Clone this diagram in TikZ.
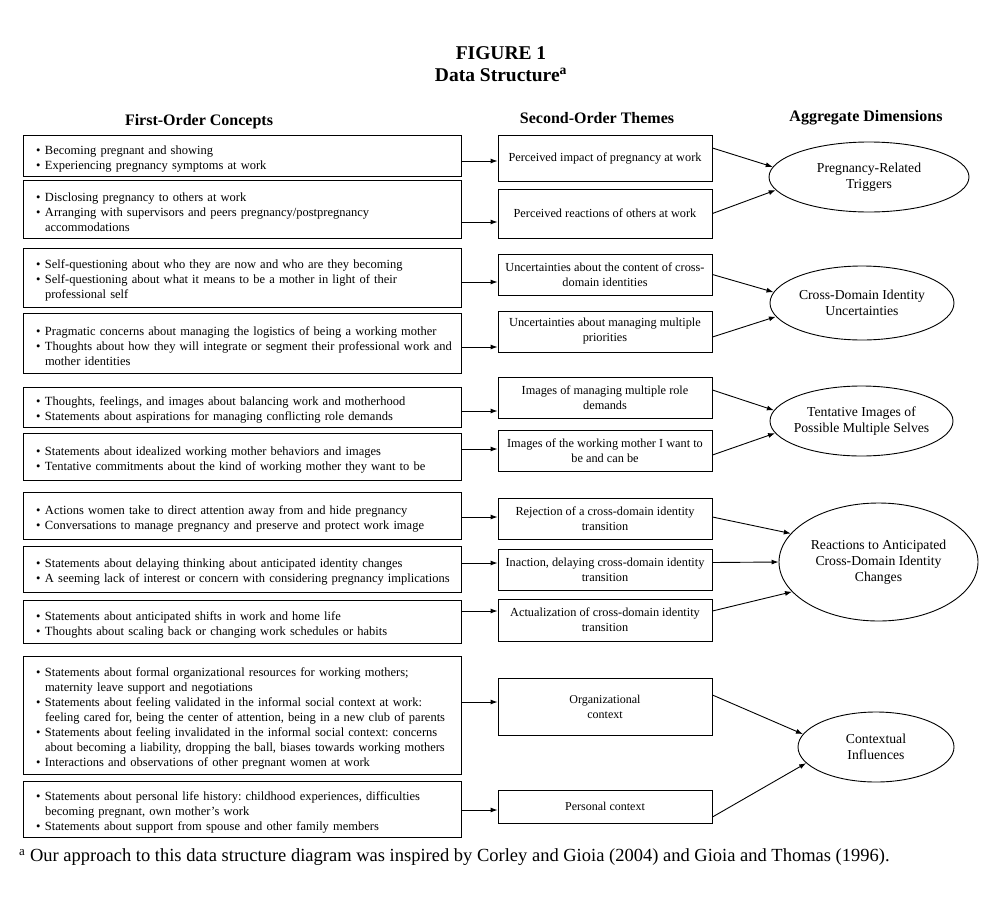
\documentclass[tikz,border=0pt]{standalone}
\usepackage{fontspec}
\setmainfont{Liberation Serif}
\usetikzlibrary{shapes.geometric, arrows.meta}
\frenchspacing
\newcommand{\bul}[1]{\par\noindent\hyphenpenalty=10000\hangindent=28pt\hangafter=1\hspace*{19pt}\makebox[9pt][l]{\textbullet}#1\par}

\begin{document}
\begin{tikzpicture}[x=1pt, y=-1pt,
    concept/.style={draw, line width=0.9pt, text width=450pt, inner xsep=-6pt, align=left, font=\fontsize{12.5}{15}\selectfont},
    theme/.style={draw, line width=0.9pt, minimum width=214pt, inner xsep=1pt, align=center, font=\fontsize{12.3}{15}\selectfont},
    dimension/.style={draw, ellipse, line width=0.9pt, inner xsep=-8pt, inner ysep=0pt, align=center, font=\fontsize{13.7}{16}\selectfont},
    head/.style={font=\bfseries\fontsize{16}{19}\selectfont},
    arr/.style={-{Latex[length=7pt, width=5pt]}, line width=0.9pt}]
    \def\xl{242}
    \def\xm{605}
    \useasboundingbox (0,0) rectangle (993,900);

    % Title and column heads
    \node[font=\bfseries\fontsize{19.5}{22}\selectfont] (t1) at (501,53) {FIGURE 1};
    \node[font=\bfseries\fontsize{19.5}{22}\selectfont] (t2) at (501,75) {Data Structure\textsuperscript{a}};
    \node[head] (h1) at (199,122) {First-Order Concepts};
    \node[head] (h2) at (597,118) {Second-Order Themes};
    \node[head] (h3) at (866,118) {Aggregate Dimensions};

    % First-order concepts
    \node[concept, minimum height=41pt] (l1) at (\xl,155.5) {\bul{Becoming pregnant and showing}\bul{Experiencing pregnancy symptoms at work}};
    \node[concept, minimum height=58pt] (l2) at (\xl,209) {\bul{Disclosing pregnancy to others at work}\bul{Arranging with supervisors and peers pregnancy/postpregnancy\newline accommodations}};
    \node[concept, minimum height=59pt] (l3) at (\xl,277.5) {\bul{Self-questioning about who they are now and who are they becoming}\bul{Self-questioning about what it means to be a mother in light of their\newline professional self}};
    \node[concept, minimum height=60pt] (l4) at (\xl,343) {\bul{Pragmatic concerns about managing the logistics of being a working mother}\bul{Thoughts about how they will integrate or segment their professional work and\newline mother identities}};
    \node[concept, minimum height=40pt] (l5) at (\xl,407) {\bul{Thoughts, feelings, and images about balancing work and motherhood}\bul{Statements about aspirations for managing conflicting role demands}};
    \node[concept, minimum height=47pt] (l6) at (\xl,456.5) {\bul{Statements about idealized working mother behaviors and images}\bul{Tentative commitments about the kind of working mother they want to be}};
    \node[concept, minimum height=47pt] (l7) at (\xl,515.5) {\bul{Actions women take to direct attention away from and hide pregnancy}\bul{Conversations to manage pregnancy and preserve and protect work image}};
    \node[concept, minimum height=46pt] (l8) at (\xl,569) {\bul{Statements about delaying thinking about anticipated identity changes}\bul{A seeming lack of interest or concern with considering pregnancy implications}};
    \node[concept, minimum height=43pt] (l9) at (\xl,621.5) {\bul{Statements about anticipated shifts in work and home life}\bul{Thoughts about scaling back or changing work schedules or habits}};
    \node[concept, minimum height=118pt] (l10) at (\xl,715) {\bul{Statements about formal organizational resources for working mothers;\newline maternity leave support and negotiations}\bul{Statements about feeling validated in the informal social context at work:\newline feeling cared for, being the center of attention, being in a new club of parents}\bul{Statements about feeling invalidated in the informal social context: concerns\newline about becoming a liability, dropping the ball, biases towards working mothers}\bul{Interactions and observations of other pregnant women at work}};
    \node[concept, minimum height=56pt] (l11) at (\xl,809) {\bul{Statements about personal life history: childhood experiences, difficulties\newline becoming pregnant, own mother's work}\bul{Statements about support from spouse and other family members}};

    % Second-order themes
    \node[theme, minimum height=46pt] (m1) at (\xm,158) {Perceived impact of pregnancy at work};
    \node[theme, minimum height=49pt] (m2) at (\xm,213.5) {Perceived reactions of others at work};
    \node[theme, minimum height=41pt] (m3) at (\xm,274.5) {Uncertainties about the content of cross-\\domain identities};
    \node[theme, minimum height=41pt] (m4) at (\xm,331.5) {Uncertainties about managing multiple\\priorities};
    \node[theme, minimum height=41pt] (m5) at (\xm,397.5) {Images of managing multiple role\\demands};
    \node[theme, minimum height=41pt] (m6) at (\xm,450.5) {Images of the working mother I want to\\be and can be};
    \node[theme, minimum height=41pt] (m7) at (\xm,518.5) {Rejection of a cross-domain identity\\transition};
    \node[theme, minimum height=41pt] (m8) at (\xm,569.5) {Inaction, delaying cross-domain identity\\transition};
    \node[theme, minimum height=42pt] (m9) at (\xm,620) {Actualization of cross-domain identity\\transition};
    \node[theme, minimum height=57pt, font=\fontsize{12}{15}\selectfont] (m10) at (\xm,706.5) {Organizational\\context};
    \node[theme, minimum height=33pt, font=\fontsize{12}{15}\selectfont] (m11) at (\xm,806.5) {Personal context};

    % Aggregate dimensions
    \node[dimension, minimum width=200pt, minimum height=70pt] (e1) at (869,177) {Pregnancy-Related\\Triggers};
    \node[dimension, minimum width=184pt, minimum height=74pt] (e2) at (862,303) {Cross-Domain Identity\\Uncertainties};
    \node[dimension, minimum width=183pt, minimum height=70pt] (e3) at (861.5,421) {Tentative Images of\\Possible Multiple Selves};
    \node[dimension, minimum width=199pt, minimum height=118pt] (e4) at (878.5,562) {Reactions to Anticipated\\Cross-Domain Identity\\Changes};
    \node[dimension, minimum width=156pt, minimum height=70pt] (e5) at (876,747) {Contextual\\Influences};

    % Draw the arrows from concepts to themes
    \foreach \i/\s in {1/-5.5, 2/-13, 3/-4.5, 4/-4, 5/-4, 6/7.5, 7/-1.5, 8/6, 9/10.5, 10/13, 11/-1}
        \draw[arr] ([yshift=\s pt]l\i.east) -- ([yshift=\s pt]l\i.east -| m\i.west);

    % Draw the arrows from themes to dimensions
    \foreach \i/\s/\e in {1/10/e1.174, 2/0/e1.188, 3/0/e2.173, 4/-5.5/e2.189, 5/7.5/e3.173, 6/-4.5/e3.188, 7/1.5/e4.162, 8/7/e4.180, 9/9/e4.199, 10/11.5/e5.170, 11/-10.5/e5.193}
        \draw[arr] ([yshift=\s pt]m\i.east) -- (\e);

    % Footnote
    \node[anchor=west, inner sep=0pt, font=\fontsize{18.5}{21}\selectfont] (fn) at (19,857) {\textsuperscript{a} Our approach to this data structure diagram was inspired by Corley and Gioia (2004) and Gioia and Thomas (1996).};
\end{tikzpicture}
\end{document}
